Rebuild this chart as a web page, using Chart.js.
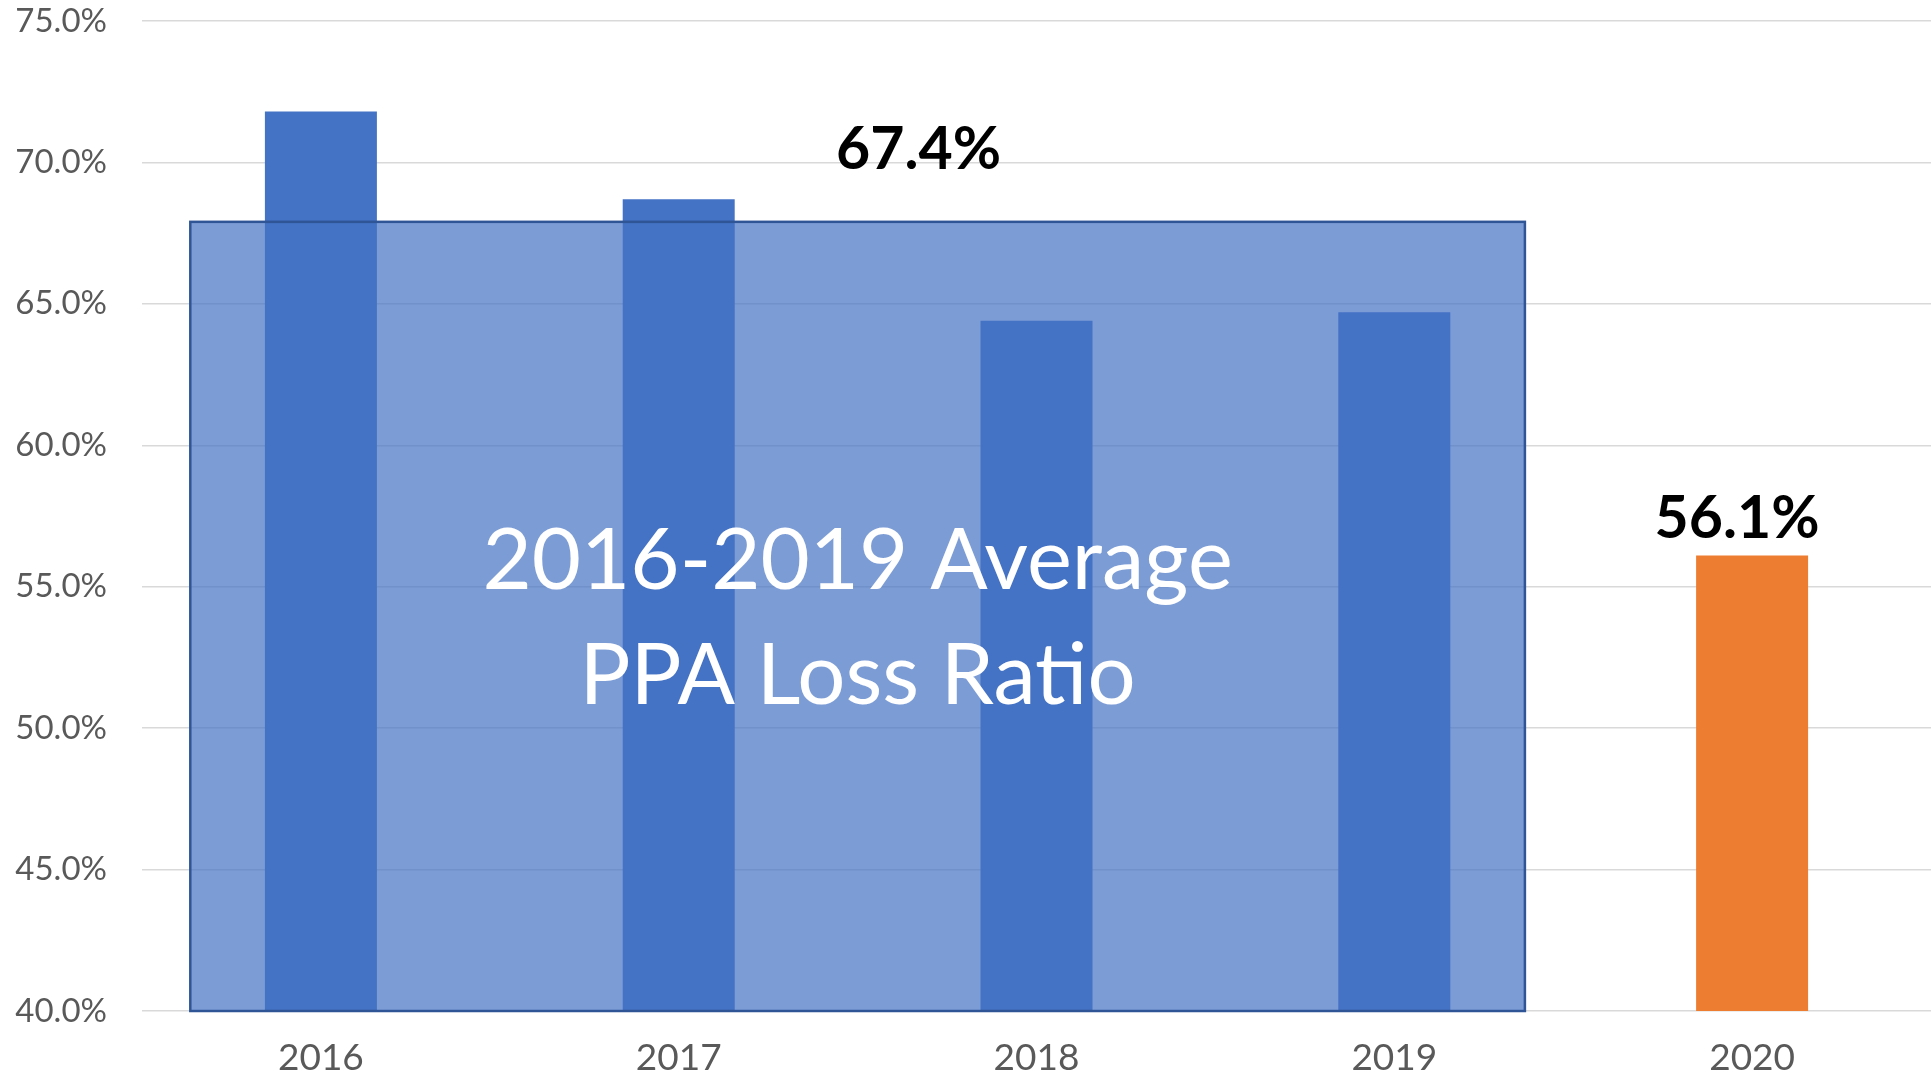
<!DOCTYPE html>
<html>
<head>
<meta charset="utf-8">
<title>PPA Loss Ratio</title>
<script src="https://cdn.jsdelivr.net/npm/chart.js"></script>
<style>
    html, body { margin: 0; padding: 0; background: #ffffff; }
    #contenedor { width: 1931px; height: 1073px; }
</style>
</head>
<body>
<div id="contenedor"><canvas id="graficoLossRatio"></canvas></div>
<script>
// Datos del gráfico
const years = ['2016', '2017', '2018', '2019', '2020'];
const lossRatio = [71.8, 68.7, 64.4, 64.7, 56.1];
const yTicks = [40, 45, 50, 55, 60, 65, 70, 75];
const averageYears = [0, 3];          // 2016..2019 (índices)
const averageBox = [40.0, 67.9];      // rango en % del recuadro del promedio
const averageText = ['2016-2019 Average', 'PPA Loss Ratio'];

const grisTexto = '#595959';
const azul = '#4472C4';
const naranja = '#ED7D31';

// Recuadro del promedio + etiquetas
const promedioPlugin = {
    id: 'promedio',
    afterDatasetsDraw(chart) {
        const { ctx, scales: { x, y } } = chart;
        const paso = x.getPixelForValue(1) - x.getPixelForValue(0);
        const izq = x.getPixelForValue(averageYears[0]) - paso * 0.365;
        const der = x.getPixelForValue(averageYears[1]) + paso * 0.365;
        const arriba = y.getPixelForValue(averageBox[1]);
        const abajo = y.getPixelForValue(averageBox[0]);

        ctx.save();
        ctx.fillStyle = 'rgba(68, 114, 196, 0.7)';
        ctx.fillRect(izq, arriba, der - izq, abajo - arriba);
        ctx.strokeStyle = '#2F5597';
        ctx.lineWidth = 2.5;
        ctx.strokeRect(izq, arriba, der - izq, abajo - arriba);

        const cx = (izq + der) / 2;
        const cy = (arriba + abajo) / 2;
        ctx.textAlign = 'center';
        ctx.textBaseline = 'alphabetic';
        ctx.fillStyle = '#ffffff';
        ctx.font = '85px Lato';
        ctx.fillText(averageText[0], cx, cy - 27);
        ctx.fillText(averageText[1], cx, cy + 88);

        // promedio 2016-2019
        const valores = lossRatio.slice(averageYears[0], averageYears[1] + 1);
        const promedio = valores.reduce((a, b) => a + b, 0) / valores.length;
        ctx.fillStyle = '#000000';
        ctx.font = 'bold 59px Lato';
        ctx.fillText(promedio.toFixed(1) + '%', cx + 61, arriba - 53);

        // etiqueta 2020
        const ultimo = lossRatio.length - 1;
        ctx.fillText(lossRatio[ultimo].toFixed(1) + '%',
            x.getPixelForValue(ultimo) - 15,
            y.getPixelForValue(lossRatio[ultimo]) - 18);
        ctx.restore();
    }
};

document.addEventListener('DOMContentLoaded', function() {
    const ctx = document.getElementById('graficoLossRatio').getContext('2d');
    new Chart(ctx, {
        type: 'bar',
        data: {
            labels: years,
            datasets: [{
                label: 'PPA Loss Ratio',
                data: lossRatio,
                backgroundColor: years.map(a => a === '2020' ? naranja : azul),
                borderWidth: 0,
                barPercentage: 0.313,
                categoryPercentage: 1
            }]
        },
        options: {
            responsive: true,
            maintainAspectRatio: false,
            animation: false,
            layout: { padding: { top: 21, right: 0, bottom: 0, left: 0 } },
            plugins: {
                legend: { display: false },
                tooltip: { enabled: false }
            },
            scales: {
                x: {
                    grid: { display: false },
                    border: { display: false },
                    ticks: { color: grisTexto, font: { family: 'Lato', size: 37 }, padding: 17 },
                    afterFit: s => { s.height = 62; s.paddingLeft = 0; s.paddingRight = 0; }
                },
                y: {
                    min: 40,
                    max: 75,
                    afterBuildTicks: s => { s.ticks = yTicks.map(v => ({ value: v })); },
                    ticks: {
                        color: grisTexto,
                        font: { family: 'Lato', size: 33 },
                        padding: 35,
                        callback: v => v.toFixed(1) + '%'
                    },
                    grid: { color: '#D9D9D9', lineWidth: 1.5, drawTicks: false },
                    border: { display: false },
                    afterFit: s => { s.width = 142; s.paddingTop = 0; s.paddingBottom = 0; }
                }
            }
        },
        plugins: [promedioPlugin]
    });
});
</script>
</body>
</html>
